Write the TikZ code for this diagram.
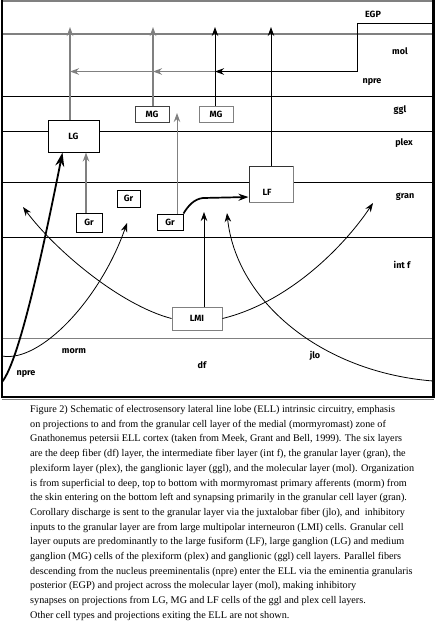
\documentclass[tikz,border=0pt]{standalone}
\usepackage{fontspec}
\setmainfont{Liberation Serif}
\newfontfamily\labfont{Fira Sans}
\usetikzlibrary{arrows.meta,calc}
\begin{document}
\begin{tikzpicture}[x=1pt,y=-1pt,
  lbl/.style={font=\labfont\bfseries\fontsize{9}{10}\selectfont, inner sep=0},
  cell/.style={draw, fill=white, line width=1pt, inner sep=0, lbl},
  layer/.style={line width=0.8pt},
  glayer/.style={gray, line width=1.8pt},
  arr/.style={-{Stealth[length=9pt,width=6.5pt]}},
  bigarr/.style={-{Stealth[length=14pt,width=9pt]}, line width=1.8pt},
  fib/.style={line width=0.8pt},
  captext/.style={font=\fontsize{10.2}{12}\selectfont, inner sep=0}
]
\useasboundingbox (0,0) rectangle (437,622);
% layer lines
\draw[glayer] (2,34) -- (434,34);
\draw[layer] (2,96) -- (434,96);
\draw[layer] (2,131) -- (434,131);
\draw[layer] (2,182) -- (434,182);
\draw[layer] (2,237) -- (434,237);
\draw[glayer] (2,338.5) -- (434,338.5);
% frame
\draw[gray, line width=2pt] (2,1) -- (434,1);
\draw[gray, line width=0.6pt] (2,399.5) -- (434,399.5);
\draw[line width=2.2pt] (2,0) -- (2,398);
\draw[line width=2.2pt] (433.5,0) -- (433.5,398);
\draw[line width=1.8pt] (1,397) -- (434.5,397);

% curves (behind boxes)
\coordinate (mormS) at (2,356);
\coordinate (mormE) at (127,223);
\draw[fib, arr] (mormS) .. controls (40,363) and (100,300) .. (mormE);
\coordinate (jloS) at (433,381);
\coordinate (jloE) at (227,213);
\draw[fib, arr] (jloS) .. controls (320,372) and (236,300) .. (jloE);

% cells
\node[cell, minimum width=51pt, minimum height=32pt] (LG) at (73.5,136) {LG};
\node[cell, draw=black!75, minimum width=34pt, minimum height=16pt] (MG1) at (152,114) {MG};
\node[cell, draw=gray, minimum width=34pt, minimum height=16pt] (MG2) at (216,114) {MG};
\node[cell, minimum width=26pt, minimum height=19pt] (Gr1) at (89,222.5) {Gr};
\node[cell, minimum width=23pt, minimum height=17pt] (Gr2) at (128.5,198.5) {Gr};
\node[cell, minimum width=26pt, minimum height=16pt] (Gr3) at (170,222) {Gr};
\node[cell, draw=black!80, minimum width=44pt, minimum height=36pt] (LF) at (271,184) {};
\node[lbl] (LFt) at (267,192) {LF};
\draw[gray, line width=1.3pt] (LF.north east) -- (LF.south east) -- (LF.south west);
\node[cell, draw=gray, minimum width=50pt, minimum height=23pt] (LMI) at (197,318.5) {LMI};

% LMI curves
\coordinate (lmiL) at (23,207);
\coordinate (lmiR) at (373,203);
\draw[fib, arr] (LMI.west) .. controls (120,305) and (55,250) .. (lmiL);
\draw[fib, arr] (LMI.east) .. controls (290,302) and (345,245) .. (lmiR);
\coordinate (lmiT) at (204,212);
\draw[fib, arr] (LMI.north -| lmiT) -- (lmiT);

% npre afferent
\coordinate (npreS) at (2,382);
\draw[bigarr] (npreS) .. controls (20,360) and (45,240) .. ($(LG.south)+(-11,0)$);

% granule outputs
\draw[gray, line width=1.2pt, arr] (Gr1.north -| 86,0) -- (LG.south -| 86,0);
\coordinate (gr3T) at (177,113);
\draw[gray, line width=1pt, arr] (Gr3.north -| gr3T) -- (gr3T);
\coordinate (gr3a) at (203,198);
\draw[line width=1.7pt, -{Stealth[length=10pt,width=7pt]}] (Gr3.north east) .. controls (188,206) and (194,199) .. (gr3a) -- (LF.west |- 0,197);

% projections to molecular layer
\coordinate (t1) at (70,27);
\coordinate (t2) at (153,27);
\coordinate (t3) at (215,27);
\coordinate (t4) at (271,27);
\draw[gray, line width=1.2pt, arr] (LG.north -| t1) -- (t1);
\draw[gray, line width=1.2pt, arr] (MG1.north -| t2) -- (t2);
\draw[line width=0.9pt, arr] (MG2.north -| t3) -- (t3);
\draw[line width=0.9pt, arr] (LF.north -| t4) -- (t4);

% parallel fibres from EGP
\coordinate (egp) at (433,23);
\coordinate (egpC) at (357,23);
\coordinate (h0) at (357,71.5);
\coordinate (h1) at (215,71.5);
\coordinate (h2) at (153,71.5);
\coordinate (h3) at (70,71.5);
\draw[line width=0.9pt] (egp) -- (egpC) -- (h0);
\draw[line width=1.7pt, arr] (h0) -- (h1);
\draw[gray, line width=1.4pt, arr] (h1) -- (h2);
\draw[gray, line width=1.4pt, arr] (h2) -- (h3);

% layer labels
\node[lbl] (lEGP) at (373,14) {EGP};
\node[lbl] (lmol) at (400,51) {mol};
\node[lbl] (lnpre) at (372,82) {npre};
\node[lbl] (lggl) at (400,110) {ggl};
\node[lbl] (lplex) at (404,143) {plex};
\node[lbl] (lgran) at (405,197) {gran};
\node[lbl] (lintf) at (402,265) {int f};
\node[lbl] (lmorm) at (74,351) {morm};
\node[lbl] (ldf) at (202,365) {df};
\node[lbl] (ljlo) at (315,356) {jlo};
\node[lbl] (lnpre2) at (26,374) {npre};

% caption
\foreach \t [count=\i] in {
{Figure 2) Schematic of electrosensory lateral line lobe (ELL) intrinsic circuitry, emphasis},
{on projections to and from the granular cell layer of the medial (mormyromast) zone of},
{Gnathonemus petersii ELL cortex (taken from Meek, Grant and Bell, 1999). The six layers},
{are the deep fiber (df) layer, the intermediate fiber layer (int f), the granular layer (gran), the},
{plexiform layer (plex), the ganglionic layer (ggl), and the molecular layer (mol). Organization},
{is from superficial to deep, top to bottom with mormyromast primary afferents (morm) from},
{the skin entering on the bottom left and synapsing primarily in the granular cell layer (gran).},
{Corollary discharge is sent to the granular layer via the juxtalobar fiber (jlo), and\ \ inhibitory},
{inputs to the granular layer are from large multipolar interneuron (LMI) cells. Granular cell},
{layer ouputs are predominantly to the large fusiform (LF), large ganglion (LG) and medium},
{ganglion (MG) cells of the plexiform (plex) and ganglionic (ggl) cell layers. Parallel fibers},
{descending from the nucleus preeminentalis (npre) enter the ELL via the eminentia granularis},
{posterior (EGP) and project across the molecular layer (mol), making inhibitory},
{synapses on projections from LG, MG and LF cells of the ggl and plex cell layers.},
{Other cell types and projections exiting the ELL are not shown.}}
{\node[captext, anchor=base west] (cap\i) at (30,{412.5+14.7*(\i-1)}) {\t};}
\end{tikzpicture}
\end{document}
